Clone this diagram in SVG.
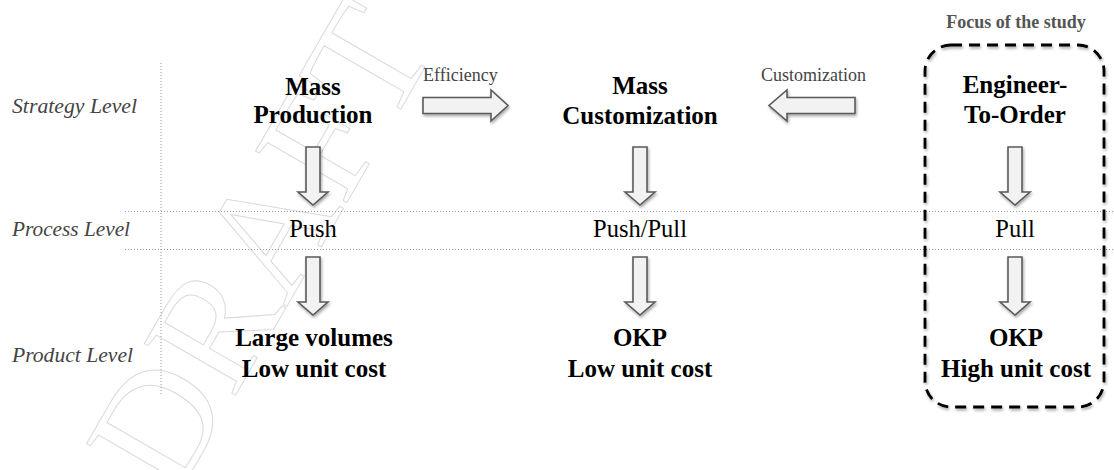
<svg xmlns="http://www.w3.org/2000/svg" xmlns:xlink="http://www.w3.org/1999/xlink" width="1114" height="470" viewBox="0 0 1114 470">
  <style>
    .level { font-family: "Liberation Serif", "Times New Roman", serif; font-style: italic; font-size: 20px; fill: #444; }
    .node { font-family: "Liberation Serif", "Times New Roman", serif; font-weight: bold; font-size: 25px; fill: #000; text-anchor: middle; }
    .proc { font-family: "Liberation Serif", "Times New Roman", serif; font-size: 24.5px; fill: #000; text-anchor: middle; }
    .flow { font-family: "Liberation Serif", "Times New Roman", serif; font-size: 18px; fill: #444; }
    .focus { font-family: "Liberation Serif", "Times New Roman", serif; font-weight: bold; font-size: 18px; fill: #555; text-anchor: middle; }
    .grid { stroke: #999; stroke-width: 1; stroke-dasharray: 1 2; fill: none; }
    .arrow { fill: #f2f2f2; stroke: #5a5a5a; stroke-width: 1.6; stroke-linejoin: miter; filter: url(#shadow); }
    .mark { font-family: "Liberation Serif", "Times New Roman", serif; font-size: 160px; fill: none; stroke: #dadada; stroke-width: 1; }
  </style>
  <defs>
    <filter id="shadow" x="-30%" y="-30%" width="160%" height="160%">
      <feGaussianBlur in="SourceAlpha" stdDeviation="1.5"/>
      <feOffset dx="1" dy="2" result="b"/>
      <feComponentTransfer><feFuncA type="linear" slope="0.35"/></feComponentTransfer>
      <feMerge><feMergeNode/><feMergeNode in="SourceGraphic"/></feMerge>
    </filter>
    <!-- block arrow pointing down, tip at (0,58) -->
    <path id="down" d="M-7,0 H7 V45 H15 L0,58 L-15,45 H-7 Z"/>
  </defs>

  <rect width="1114" height="470" fill="#fff"/>

  <!-- hollow watermark lettering behind the page content -->
  <g id="watermark">
    <text class="mark" transform="translate(175,500) rotate(-60)">DRAFT</text>
  </g>

  <!-- level guides -->
  <g id="grid">
    <line class="grid" x1="161" y1="63" x2="161" y2="395"/>
    <line class="grid" x1="125" y1="211.5" x2="1114" y2="211.5"/>
    <line class="grid" x1="125" y1="249.5" x2="1114" y2="249.5"/>
  </g>

  <g id="levels">
    <text class="level" x="12" y="113" textLength="125" lengthAdjust="spacingAndGlyphs">Strategy Level</text>
    <text class="level" x="12" y="236" textLength="118" lengthAdjust="spacingAndGlyphs">Process Level</text>
    <text class="level" x="12" y="362" textLength="121" lengthAdjust="spacingAndGlyphs">Product Level</text>
  </g>

  <!-- focus box -->
  <g id="focus">
    <text class="focus" x="1016" y="28">Focus of the study</text>
    <rect x="925" y="45" width="179" height="362" rx="26" ry="26" fill="none" stroke="#000" stroke-width="2.8" stroke-dasharray="11 7" filter="url(#shadow)"/>
  </g>

  <g id="mass-production">
    <text class="node" x="313" y="95">Mass</text>
    <text class="node" x="313" y="123">Production</text>
  </g>
  <g id="mass-customization">
    <text class="node" x="640" y="94">Mass</text>
    <text class="node" x="640" y="124">Customization</text>
  </g>
  <g id="engineer-to-order">
    <text class="node" x="1015" y="93">Engineer-</text>
    <text class="node" x="1015" y="123">To-Order</text>
  </g>

  <g id="push"><text class="proc" x="313" y="237">Push</text></g>
  <g id="push-pull"><text class="proc" x="640" y="237">Push/Pull</text></g>
  <g id="pull"><text class="proc" x="1015" y="237">Pull</text></g>

  <g id="large-volumes">
    <text class="node" x="314" y="346">Large volumes</text>
    <text class="node" x="314" y="377">Low unit cost</text>
  </g>
  <g id="okp-low">
    <text class="node" x="640" y="346">OKP</text>
    <text class="node" x="640" y="377">Low unit cost</text>
  </g>
  <g id="okp-high">
    <text class="node" x="1016" y="346">OKP</text>
    <text class="node" x="1016" y="377">High unit cost</text>
  </g>

  <!-- connectors -->
  <g id="connectors">
    <path class="arrow" d="M423,97.5 H491 V90 L508,105.5 L491,121 V113.5 H423 Z"/>
    <text class="flow" x="423" y="81">Efficiency</text>
    <path class="arrow" d="M855,97.5 H787 V90 L769,105.5 L787,121 V113.5 H855 Z"/>
    <text class="flow" x="761" y="81">Customization</text>

    <use href="#down" xlink:href="#down" class="arrow" x="313" y="147"/>
    <use href="#down" xlink:href="#down" class="arrow" x="640" y="147"/>
    <use href="#down" xlink:href="#down" class="arrow" x="1015" y="147"/>
    <use href="#down" xlink:href="#down" class="arrow" x="313" y="257"/>
    <use href="#down" xlink:href="#down" class="arrow" x="640" y="257"/>
    <use href="#down" xlink:href="#down" class="arrow" x="1015" y="257"/>
  </g>
</svg>
